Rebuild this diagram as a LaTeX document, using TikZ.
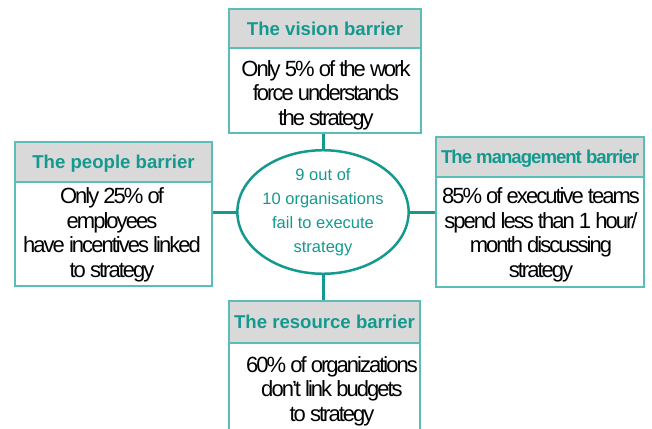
\documentclass[tikz,border=0pt]{standalone}
\usepackage{fontspec}
\setmainfont{Liberation Sans}
\usetikzlibrary{shapes.geometric}
\definecolor{barrierteal}{HTML}{14998F}
\definecolor{boxedge}{HTML}{5CBDB7}
\definecolor{headgray}{HTML}{D9D9D9}
\newcommand{\edgecolor}{boxedge}
\newcommand{\linkcolor}{barrierteal}
\newcommand{\linkwidth}{3pt}
\newcommand{\headfont}{\bfseries\fontsize{18.6}{22}\selectfont}
\newcommand{\barrierfont}{\fontsize{22}{24.5}\selectfont\addfontfeatures{LetterSpace=-9}}
\newcommand{\corefont}{\fontsize{16.5}{24}\selectfont}
\tikzset{
  barrierhead/.style={draw=\edgecolor, line width=1.5pt, fill=headgray, text=barrierteal, font=\headfont, text depth=0pt, inner sep=0pt},
  barrierbody/.style={draw=\edgecolor, line width=1.5pt, fill=white, inner sep=0pt},
  barriertext/.style={align=center, font=\barrierfont, inner sep=0pt}
}

\begin{document}
\begin{tikzpicture}[x=1pt,y=-1pt]
\useasboundingbox (0,0) rectangle (652,428);
%vision
\node[barrierhead, minimum width=192pt, minimum height=39pt] (visionhead) at (325,28.5) {The vision barrier};
\node[barrierbody, minimum width=192pt, minimum height=85pt] (visionbody) at (325,90.5) {};
\node[barriertext] (visiontext) at (326,95) {Only 5\% of the work\\force understands\\the strategy};
%people
\node[barrierhead, minimum width=197pt, minimum height=40pt] (peoplehead) at (113.5,162) {The people barrier};
\node[barrierbody, minimum width=197pt, minimum height=104pt] (peoplebody) at (113.5,234) {};
\node[barriertext] (peopletext) at (112,235) {Only 25\% of\\employees\\have incentives linked\\to strategy};
%management
\node[barrierhead, minimum width=208pt, minimum height=40pt] (managementhead) at (540,157) {\addfontfeatures{LetterSpace=-5.4}The management barrier};
\node[barrierbody, minimum width=208pt, minimum height=110pt] (managementbody) at (540,232) {};
\node[barriertext] (managementtext) at (541,235) {85\% of executive teams\\spend less than 1 hour/\\month discussing\\strategy};
%resource
\node[barrierhead, minimum width=191pt, minimum height=42pt] (resourcehead) at (324.5,322) {The resource barrier};
\node[barrierbody, minimum width=191pt, minimum height=96pt] (resourcebody) at (324.5,391) {};
\node[barriertext] (resourcetext) at (332,391) {60\% of organizations\\don’t link budgets\\to strategy};
%core
\node[ellipse, draw=\linkcolor, line width=2.5pt, text=\linkcolor, align=center, font=\corefont, minimum width=142pt, minimum height=115pt, inner sep=0pt] (core) at (323,212) {9 out of\\10 organisations\\fail to execute\\strategy};
%links
\draw[\linkcolor, line width=\linkwidth] (core.north) -- (core.north |- visionbody.south);
\draw[\linkcolor, line width=\linkwidth] (core.south) -- (core.south |- resourcehead.north);
\draw[\linkcolor, line width=\linkwidth] (core.west) -- (core.west -| peoplebody.east);
\draw[\linkcolor, line width=\linkwidth] (core.east) -- (core.east -| managementbody.west);
\end{tikzpicture}
\end{document}
